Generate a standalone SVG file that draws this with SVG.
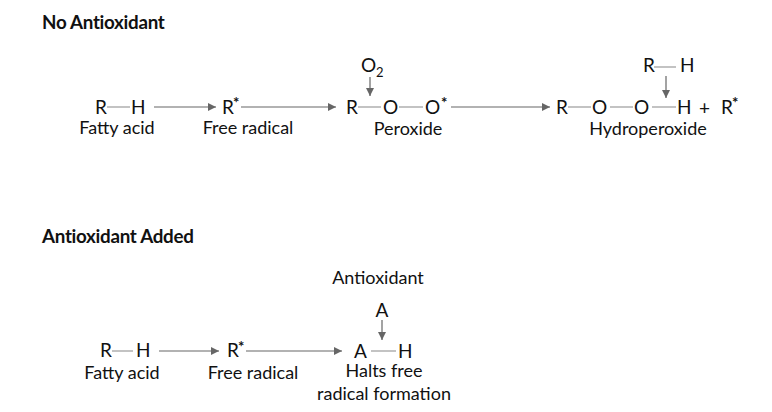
<svg xmlns="http://www.w3.org/2000/svg" width="772" height="412" viewBox="0 0 772 412">
<style>
text{font-family:"Lato","Liberation Sans",sans-serif;fill:#111;font-size:19px}
.l{font-size:18px}
.h{font-weight:700;font-size:18.8px;letter-spacing:-.3px}
.s{font-size:15px;font-weight:700}
.o{font-size:13px}
.c{text-anchor:middle}
.b{stroke:#888;stroke-width:1.2;fill:none}
.a{stroke:#666;stroke-width:1.2;fill:none;marker-end:url(#ah)}
</style>
<defs><marker id="ah" markerUnits="userSpaceOnUse" markerWidth="10" markerHeight="10" refX="8" refY="5" orient="auto"><path d="M0 1L8 5L0 9z" fill="#666"/></marker></defs>
<rect width="772" height="412" fill="#fff"/>
<g id="connectors">
<path class="b" d="M107 107H130M358 107H381M399 107H423M568 107H591M610 107H633M652 107H676M654 67H676M112 351H133M371 351H396"/>
<path class="a" d="M154 107H216"/><path class="a" d="M241 107H336"/><path class="a" d="M451 107H550"/>
<path class="a" d="M370 77V96"/><path class="a" d="M666 76V98"/>
<path class="a" d="M159 351H219"/><path class="a" d="M246 351H342"/><path class="a" d="M382 320V340"/>
</g>
<g id="title-1"><text class="h" x="42" y="29">No Antioxidant</text></g>
<g id="title-2"><text class="h" x="42" y="243">Antioxidant Added</text></g>
<g id="n1"><text x="95" y="114">R</text><text x="131" y="114">H</text><text class="c l" x="117" y="134">Fatty acid</text></g>
<g id="n2"><text x="222" y="114">R</text><text class="s" x="233" y="108">*</text><text class="c l" x="248" y="134">Free radical</text></g>
<g id="n3"><text x="346" y="114">R</text><text x="383" y="114">O</text><text x="425" y="114">O</text><text class="s" x="441" y="108">*</text><text class="c l" x="408" y="135">Peroxide</text></g>
<g id="n4"><text x="361" y="72">O</text><text class="o" x="376" y="77">2</text></g>
<g id="n5"><text x="556" y="114">R</text><text x="592" y="114">O</text><text x="634" y="114">O</text><text x="677" y="114">H</text><text x="699" y="115">+</text><text x="721" y="114">R</text><text class="s" x="732" y="108">*</text><text class="c l" x="648" y="135">Hydroperoxide</text></g>
<g id="n6"><text x="643" y="72">R</text><text x="680" y="72">H</text></g>
<g id="n7"><text x="100" y="357">R</text><text x="136" y="357">H</text><text class="c l" x="122" y="379">Fatty acid</text></g>
<g id="n8"><text x="227" y="357">R</text><text class="s" x="238" y="352">*</text><text class="c l" x="253" y="379">Free radical</text></g>
<g id="n9"><text class="c l" x="378" y="284">Antioxidant</text></g>
<g id="n10"><text class="c" x="382" y="317">A</text></g>
<g id="n11"><text x="354" y="358">A</text><text x="398" y="358">H</text><text class="c l" x="384" y="377">Halts free</text><text class="c l" x="384" y="400">radical formation</text></g>
</svg>
